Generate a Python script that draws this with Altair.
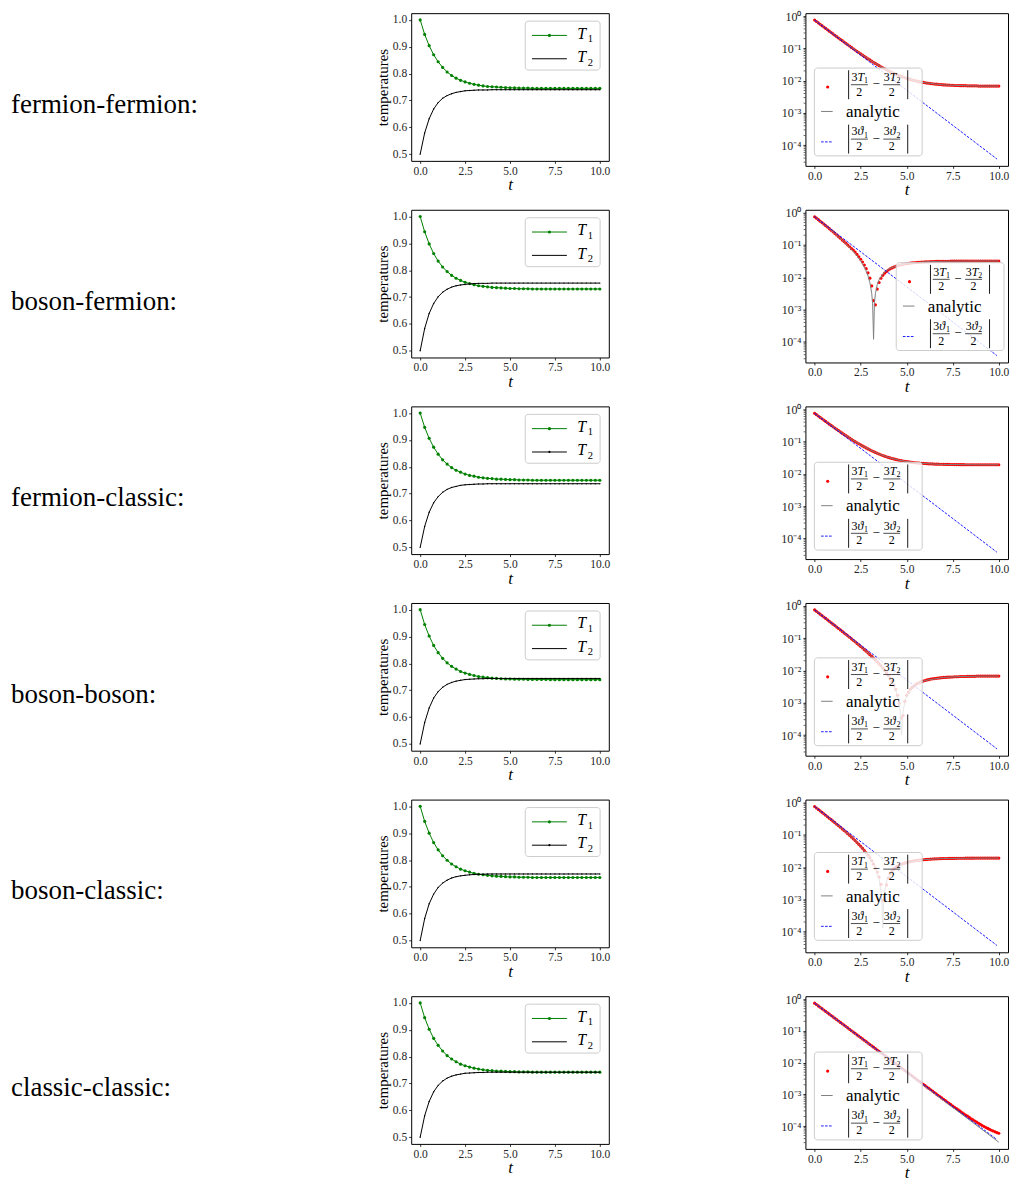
import altair as alt
import pandas as pd

FONT = "Liberation Serif"

ROW_LABELS = ["fermion-fermion:", "boson-fermion:", "fermion-classic:",
              "boson-boson:", "boson-classic:", "classic-classic:"]

# ---------------- left panels: temperatures ----------------
T_COARSE = [0.0, 0.25, 0.5, 0.75, 1.0, 1.25, 1.5, 1.75, 2.0, 2.25, 2.5, 2.75,
            3.0, 3.25, 3.5, 3.75, 4.0, 4.25, 4.5, 4.75, 5.0, 5.25, 5.5, 5.75,
            6.0, 6.25, 6.5, 6.75, 7.0, 7.25, 7.5, 7.75, 8.0, 8.25, 8.5, 8.75,
            9.0, 9.25, 9.5, 9.75, 10.0]

T1_ROWS = [
    [1.000, 0.946, 0.904, 0.870, 0.844, 0.823, 0.806, 0.793, 0.783, 0.775, 0.769, 0.764,
     0.760, 0.757, 0.754, 0.752, 0.751, 0.750, 0.749, 0.748, 0.747, 0.747, 0.746, 0.746,
     0.746, 0.745, 0.745, 0.745, 0.745, 0.745, 0.745, 0.745, 0.745, 0.745, 0.745, 0.745,
     0.745, 0.745, 0.745, 0.745, 0.745],
    [1.000, 0.943, 0.898, 0.862, 0.834, 0.812, 0.795, 0.781, 0.770, 0.762, 0.755, 0.750,
     0.746, 0.742, 0.740, 0.738, 0.736, 0.735, 0.734, 0.733, 0.732, 0.732, 0.731, 0.731,
     0.731, 0.730, 0.730, 0.730, 0.730, 0.730, 0.730, 0.730, 0.730, 0.730, 0.730, 0.730,
     0.730, 0.730, 0.730, 0.730, 0.730],
    [1.000, 0.947, 0.906, 0.873, 0.847, 0.826, 0.810, 0.797, 0.787, 0.780, 0.773, 0.768,
     0.765, 0.761, 0.759, 0.757, 0.756, 0.754, 0.754, 0.753, 0.752, 0.752, 0.751, 0.751,
     0.751, 0.750, 0.750, 0.750, 0.750, 0.750, 0.750, 0.750, 0.750, 0.750, 0.750, 0.750,
     0.750, 0.750, 0.750, 0.750, 0.750],
    [1.000, 0.945, 0.902, 0.867, 0.840, 0.819, 0.802, 0.789, 0.779, 0.770, 0.764, 0.759,
     0.755, 0.751, 0.749, 0.747, 0.745, 0.744, 0.743, 0.742, 0.742, 0.741, 0.741, 0.741,
     0.740, 0.740, 0.740, 0.740, 0.740, 0.7395, 0.7395, 0.7395, 0.7395, 0.7395, 0.7395, 0.7395,
     0.7395, 0.7395, 0.7395, 0.7395, 0.7395],
    [1.000, 0.944, 0.900, 0.865, 0.838, 0.816, 0.799, 0.785, 0.775, 0.766, 0.760, 0.755,
     0.750, 0.747, 0.745, 0.743, 0.741, 0.740, 0.739, 0.738, 0.737, 0.737, 0.736, 0.736,
     0.736, 0.735, 0.735, 0.735, 0.735, 0.735, 0.735, 0.735, 0.735, 0.735, 0.735, 0.735,
     0.735, 0.735, 0.735, 0.735, 0.735],
    [1.000, 0.945, 0.902, 0.868, 0.842, 0.821, 0.804, 0.791, 0.781, 0.772, 0.766, 0.761,
     0.757, 0.754, 0.751, 0.749, 0.748, 0.746, 0.746, 0.745, 0.744, 0.744, 0.743, 0.743,
     0.743, 0.742, 0.742, 0.742, 0.742, 0.742, 0.742, 0.742, 0.742, 0.742, 0.742, 0.742,
     0.742, 0.742, 0.742, 0.742, 0.742],
]

T2_ROWS = [
    [0.500, 0.579, 0.632, 0.668, 0.692, 0.708, 0.718, 0.725, 0.730, 0.733, 0.736, 0.737,
     0.738, 0.739, 0.739, 0.739, 0.740, 0.740, 0.740, 0.740, 0.740, 0.740, 0.740, 0.740,
     0.740, 0.740, 0.740, 0.740, 0.740, 0.740, 0.740, 0.740, 0.740, 0.740, 0.740, 0.740,
     0.740, 0.740, 0.740, 0.740, 0.740],
    [0.500, 0.583, 0.639, 0.676, 0.701, 0.718, 0.729, 0.737, 0.742, 0.745, 0.747, 0.749,
     0.750, 0.751, 0.751, 0.751, 0.752, 0.752, 0.752, 0.752, 0.752, 0.752, 0.752, 0.752,
     0.752, 0.752, 0.752, 0.752, 0.752, 0.752, 0.752, 0.752, 0.752, 0.752, 0.752, 0.752,
     0.752, 0.752, 0.752, 0.752, 0.752],
    [0.500, 0.578, 0.631, 0.666, 0.689, 0.705, 0.716, 0.723, 0.727, 0.731, 0.733, 0.734,
     0.735, 0.736, 0.736, 0.737, 0.737, 0.737, 0.737, 0.737, 0.737, 0.737, 0.737, 0.737,
     0.737, 0.737, 0.737, 0.737, 0.737, 0.737, 0.737, 0.737, 0.737, 0.737, 0.737, 0.737,
     0.737, 0.737, 0.737, 0.737, 0.737],
    [0.500, 0.580, 0.634, 0.671, 0.695, 0.711, 0.722, 0.729, 0.734, 0.737, 0.740, 0.741,
     0.742, 0.743, 0.743, 0.744, 0.744, 0.744, 0.744, 0.744, 0.744, 0.744, 0.744, 0.744,
     0.744, 0.744, 0.744, 0.744, 0.744, 0.744, 0.744, 0.744, 0.744, 0.744, 0.744, 0.744,
     0.744, 0.744, 0.744, 0.744, 0.744],
    [0.500, 0.582, 0.637, 0.673, 0.698, 0.714, 0.725, 0.733, 0.738, 0.741, 0.743, 0.745,
     0.746, 0.747, 0.747, 0.748, 0.748, 0.748, 0.748, 0.748, 0.748, 0.748, 0.748, 0.748,
     0.748, 0.748, 0.748, 0.748, 0.748, 0.748, 0.748, 0.748, 0.748, 0.748, 0.748, 0.748,
     0.748, 0.748, 0.748, 0.748, 0.748],
    [0.500, 0.580, 0.633, 0.669, 0.693, 0.709, 0.720, 0.727, 0.732, 0.735, 0.738, 0.739,
     0.740, 0.741, 0.741, 0.742, 0.742, 0.742, 0.742, 0.742, 0.742, 0.742, 0.742, 0.742,
     0.742, 0.742, 0.742, 0.742, 0.742, 0.742, 0.742, 0.742, 0.742, 0.742, 0.742, 0.742,
     0.742, 0.742, 0.742, 0.742, 0.742],
]

T2_LEGEND_MARKER = [False, False, True, False, True, False]

# ---------------- right panels: |3T1/2 - 3T2/2| on a log axis ----------------
T_FINE = [0.0, 0.1, 0.2, 0.3, 0.4, 0.5, 0.6, 0.7, 0.8, 0.9,
          1.0, 1.1, 1.2, 1.3, 1.4, 1.5, 1.6, 1.7, 1.8, 1.9,
          2.0, 2.1, 2.2, 2.3, 2.4, 2.5, 2.6, 2.7, 2.8, 2.9,
          3.0, 3.1, 3.2, 3.3, 3.4, 3.5, 3.6, 3.7, 3.8, 3.9,
          4.0, 4.1, 4.2, 4.3, 4.4, 4.5, 4.6, 4.7, 4.8, 4.9,
          5.0, 5.1, 5.2, 5.3, 5.4, 5.5, 5.6, 5.7, 5.8, 5.9,
          6.0, 6.1, 6.2, 6.3, 6.4, 6.5, 6.6, 6.7, 6.8, 6.9,
          7.0, 7.1, 7.2, 7.3, 7.4, 7.5, 7.6, 7.7, 7.8, 7.9,
          8.0, 8.1, 8.2, 8.3, 8.4, 8.5, 8.6, 8.7, 8.8, 8.9,
          9.0, 9.1, 9.2, 9.3, 9.4, 9.5, 9.6, 9.7, 9.8, 9.9,
          10.0]

DIFF_ROWS = [
    [0.750, 0.679, 0.616, 0.558, 0.505, 0.458, 0.415, 0.376, 0.340, 0.309,
     0.280, 0.254, 0.230, 0.210, 0.190, 0.173, 0.157, 0.143, 0.129, 0.118,
     0.107, 0.0974, 0.0892, 0.0811, 0.0742, 0.0678, 0.0620, 0.0567, 0.0519, 0.0476,
     0.0438, 0.0402, 0.0371, 0.0342, 0.0316, 0.0292, 0.0270, 0.0251, 0.0234, 0.0218,
     0.0203, 0.0191, 0.0179, 0.0168, 0.0159, 0.0150, 0.0143, 0.0135, 0.0129, 0.0123,
     0.0118, 0.0113, 0.0109, 0.0105, 0.0101, 0.0098, 0.0095, 0.0092, 0.0090, 0.0088,
     0.0086, 0.0084, 0.0083, 0.0081, 0.0080, 0.0079, 0.0078, 0.0077, 0.0076, 0.0075,
     0.0074, 0.0074, 0.0073, 0.0073, 0.0072, 0.0072, 0.0071, 0.0071, 0.0071, 0.0070,
     0.0070, 0.0070, 0.0070, 0.0069, 0.0069, 0.0069, 0.0069, 0.0069, 0.0069, 0.0068,
     0.0068, 0.0068, 0.0068, 0.0068, 0.0068, 0.0068, 0.0068, 0.0068, 0.0068, 0.0068,
     0.0068],
    [0.750, 0.676, 0.608, 0.547, 0.492, 0.443, 0.397, 0.357, 0.319, 0.286,
     0.256, 0.228, 0.203, 0.181, 0.161, 0.142, 0.127, 0.113, 0.099, 0.088,
     0.077, 0.0693, 0.0602, 0.0511, 0.0433, 0.0362, 0.0297, 0.0238, 0.0185, 0.0137,
     0.0094, 0.0054, 0.0019, 0.0014, 0.0043, 0.0069, 0.0093, 0.0115, 0.0134, 0.0152,
     0.0168, 0.0182, 0.0195, 0.0207, 0.0218, 0.0228, 0.0236, 0.0244, 0.0252, 0.0258,
     0.0264, 0.0269, 0.0274, 0.0279, 0.0282, 0.0286, 0.0289, 0.0292, 0.0295, 0.0297,
     0.0299, 0.0301, 0.0303, 0.0305, 0.0306, 0.0308, 0.0309, 0.0310, 0.0311, 0.0312,
     0.0312, 0.0313, 0.0314, 0.0314, 0.0315, 0.0315, 0.0316, 0.0316, 0.0317, 0.0317,
     0.0317, 0.0318, 0.0318, 0.0318, 0.0318, 0.0318, 0.0319, 0.0319, 0.0319, 0.0319,
     0.0319, 0.0319, 0.0319, 0.0319, 0.0319, 0.0319, 0.0319, 0.0319, 0.0319, 0.0319,
     0.0319],
    [0.750, 0.681, 0.618, 0.561, 0.509, 0.463, 0.420, 0.382, 0.347, 0.317,
     0.288, 0.262, 0.239, 0.219, 0.200, 0.182, 0.167, 0.153, 0.140, 0.129,
     0.118, 0.108, 0.100, 0.092, 0.0854, 0.0791, 0.0734, 0.0682, 0.0635, 0.0593,
     0.0555, 0.0520, 0.0489, 0.0461, 0.0435, 0.0411, 0.0390, 0.0371, 0.0354, 0.0338,
     0.0324, 0.0312, 0.0300, 0.0290, 0.0280, 0.0272, 0.0264, 0.0257, 0.0251, 0.0245,
     0.0240, 0.0235, 0.0231, 0.0227, 0.0224, 0.0220, 0.0218, 0.0215, 0.0213, 0.0211,
     0.0209, 0.0207, 0.0205, 0.0204, 0.0203, 0.0201, 0.0200, 0.0200, 0.0199, 0.0198,
     0.0197, 0.0197, 0.0196, 0.0196, 0.0195, 0.0195, 0.0194, 0.0194, 0.0194, 0.0193,
     0.0193, 0.0193, 0.0192, 0.0192, 0.0192, 0.0192, 0.0191, 0.0191, 0.0191, 0.0191,
     0.0191, 0.0191, 0.0191, 0.0191, 0.0191, 0.0191, 0.0191, 0.0191, 0.0191, 0.0191,
     0.0191],
    [0.750, 0.678, 0.613, 0.554, 0.500, 0.453, 0.409, 0.369, 0.333, 0.301,
     0.272, 0.245, 0.221, 0.200, 0.180, 0.162, 0.146, 0.132, 0.118, 0.107,
     0.0954, 0.0856, 0.0773, 0.0689, 0.0619, 0.0554, 0.0495, 0.0441, 0.0393, 0.0349,
     0.0309, 0.0273, 0.0241, 0.0212, 0.0185, 0.0161, 0.0139, 0.0119, 0.0102, 0.0085,
     0.0071, 0.0058, 0.0046, 0.0035, 0.0026, 0.0017, 0.00095, 0.00034, 0.0004, 0.0011,
     0.0017, 0.0021, 0.0026, 0.0030, 0.0033, 0.0037, 0.0040, 0.0042, 0.0045, 0.0047,
     0.0049, 0.0051, 0.0052, 0.0054, 0.0055, 0.0056, 0.0057, 0.0058, 0.0059, 0.0060,
     0.0061, 0.0061, 0.0062, 0.0062, 0.0063, 0.0063, 0.0064, 0.0064, 0.0064, 0.0065,
     0.0065, 0.0065, 0.0065, 0.0066, 0.0066, 0.0066, 0.0066, 0.0066, 0.0067, 0.0067,
     0.0067, 0.0067, 0.0067, 0.0067, 0.0067, 0.0067, 0.0067, 0.0067, 0.0067, 0.0067,
     0.0067],
    [0.750, 0.677, 0.611, 0.551, 0.496, 0.448, 0.403, 0.363, 0.326, 0.294,
     0.264, 0.237, 0.212, 0.191, 0.171, 0.152, 0.136, 0.122, 0.108, 0.0963,
     0.0848, 0.0748, 0.0663, 0.0579, 0.0507, 0.0441, 0.0381, 0.0326, 0.0277, 0.0232,
     0.0193, 0.0156, 0.0123, 0.0093, 0.0070, 0.0049, 0.0029, 0.00093, 0.00096, 0.0028,
     0.0046, 0.0062, 0.0075, 0.0086, 0.0096, 0.0105, 0.0113, 0.0121, 0.0127, 0.0133,
     0.0139, 0.0144, 0.0148, 0.0152, 0.0156, 0.0159, 0.0162, 0.0165, 0.0167, 0.0169,
     0.0171, 0.0173, 0.0175, 0.0176, 0.0178, 0.0179, 0.0180, 0.0181, 0.0182, 0.0183,
     0.0184, 0.0185, 0.0185, 0.0186, 0.0186, 0.0186, 0.0187, 0.0187, 0.0188, 0.0188,
     0.0188, 0.0188, 0.0189, 0.0189, 0.0189, 0.0189, 0.0189, 0.0190, 0.0190, 0.0190,
     0.0190, 0.0190, 0.0190, 0.0190, 0.0190, 0.0190, 0.0190, 0.0190, 0.0190, 0.0190,
     0.0190],
    [0.750, 0.679, 0.614, 0.556, 0.503, 0.455, 0.412, 0.373, 0.337, 0.305,
     0.276, 0.250, 0.226, 0.205, 0.185, 0.167, 0.152, 0.137, 0.124, 0.112,
     0.101, 0.0918, 0.0831, 0.0752, 0.0680, 0.0616, 0.0557, 0.0504, 0.0456, 0.0413,
     0.0373, 0.0338, 0.0306, 0.0277, 0.0250, 0.0227, 0.0205, 0.0185, 0.0168, 0.0152,
     0.0137, 0.0124, 0.0112, 0.0102, 0.00922, 0.00833, 0.00754, 0.00683, 0.00617, 0.00559,
     0.00506, 0.00457, 0.00414, 0.00375, 0.00339, 0.00307, 0.00278, 0.00251, 0.00227, 0.00206,
     0.00187, 0.00169, 0.00153, 0.00139, 0.00126, 0.00114, 0.00103, 0.000934, 0.000847, 0.000768,
     0.000696, 0.000632, 0.000573, 0.000520, 0.000472, 0.000429, 0.000389, 0.000355, 0.000323, 0.000294,
     0.000267, 0.000244, 0.000223, 0.000204, 0.000187, 0.000170, 0.000157, 0.000144, 0.000133, 0.000122,
     0.000113, 0.000104, 0.0000969, 0.0000901, 0.0000841, 0.0000788, 0.0000738, 0.0000695, 0.0000656, 0.0000621,
     0.000059],
]

ANA_T = [
    [0.0, 0.5, 1.0, 1.5, 2.0, 2.5, 3.0, 3.5, 4.0, 4.5, 5.0, 5.5, 6.0, 6.5, 7.0, 7.5, 8.0, 8.5, 9.0, 9.5, 10.0],
    [0.0, 0.5, 1.0, 1.5, 2.0, 2.25, 2.5, 2.75, 2.9, 3.0, 3.1, 3.15, 3.2, 3.25, 3.3, 3.4, 3.5, 3.75,
     4.0, 4.5, 5.0, 6.0, 7.0, 8.0, 9.0, 10.0],
    [0.0, 0.5, 1.0, 1.5, 2.0, 2.5, 3.0, 3.5, 4.0, 4.5, 5.0, 5.5, 6.0, 6.5, 7.0, 7.5, 8.0, 8.5, 9.0, 9.5, 10.0],
    [0.0, 0.5, 1.0, 1.5, 2.0, 2.5, 3.0, 3.5, 4.0, 4.25, 4.5, 4.6, 4.65, 4.7, 4.72, 4.75, 4.8, 4.9,
     5.0, 5.25, 5.5, 6.0, 7.0, 8.0, 9.0, 10.0],
    [0.0, 0.5, 1.0, 1.5, 2.0, 2.5, 3.0, 3.25, 3.5, 3.6, 3.65, 3.7, 3.75, 3.8, 3.9, 4.0, 4.25, 4.5,
     5.0, 6.0, 7.0, 8.0, 9.0, 10.0],
    [0.0, 10.0],
]
ANA_V = [
    [0.750, 0.458, 0.280, 0.173, 0.107, 0.0678, 0.0438, 0.0292, 0.0203, 0.0150, 0.0118, 0.0098,
     0.0086, 0.0079, 0.0074, 0.0072, 0.0070, 0.0069, 0.0068, 0.0068, 0.0068],
    [0.750, 0.443, 0.256, 0.142, 0.0736, 0.0504, 0.0322, 0.0180, 0.0110, 0.0069, 0.0032, 0.0015,
     0.00012, 0.0017, 0.0031, 0.0059, 0.0084, 0.0136, 0.0177, 0.0233, 0.0267, 0.0301, 0.0313,
     0.0317, 0.0319, 0.0320],
    [0.750, 0.463, 0.288, 0.182, 0.118, 0.0791, 0.0555, 0.0411, 0.0324, 0.0272, 0.0240, 0.0220,
     0.0209, 0.0201, 0.0197, 0.0195, 0.0193, 0.0192, 0.0191, 0.0191, 0.0191],
    [0.750, 0.453, 0.272, 0.162, 0.0954, 0.0554, 0.0309, 0.0161, 0.0071, 0.0040, 0.0017, 0.00095,
     0.00048, 0.00014, 0.0001, 0.0002, 0.00052, 0.0011, 0.0016, 0.0028, 0.0037, 0.0049, 0.0061,
     0.0065, 0.0067, 0.0067],
    [0.750, 0.448, 0.264, 0.152, 0.0848, 0.0441, 0.0193, 0.0108, 0.0042, 0.0019, 0.00094, 0.00013,
     0.00096, 0.0018, 0.0035, 0.0050, 0.0081, 0.0105, 0.0139, 0.0171, 0.0184, 0.0188, 0.0190, 0.0190],
    [0.750, 0.000031],
]

THETA_T = [0.0, 9.9]
THETA_V = [0.750, 0.0000375]

LOG_DOMAINS = [[2.3e-5, 1.23], [2.3e-5, 1.23], [2.3e-5, 1.23],
               [2.3e-5, 1.23], [2.3e-5, 1.23], [1.9e-5, 1.24]]

X_DOMAIN = [-0.5, 10.5]
X_TICKS = [0.0, 2.5, 5.0, 7.5, 10.0]
TEMP_DOMAIN = [0.475, 1.025]
TEMP_TICKS = [0.5, 0.6, 0.7, 0.8, 0.9, 1.0]
LOG_TICKS = [0.0001, 0.001, 0.01, 0.1, 1.0]
LOG_MINOR = [3e-5, 4e-5, 5e-5, 6e-5, 7e-5, 8e-5, 9e-5,
             2e-4, 3e-4, 4e-4, 5e-4, 6e-4, 7e-4, 8e-4, 9e-4,
             2e-3, 3e-3, 4e-3, 5e-3, 6e-3, 7e-3, 8e-3, 9e-3,
             2e-2, 3e-2, 4e-2, 5e-2, 6e-2, 7e-2, 8e-2, 9e-2,
             0.2, 0.3, 0.4, 0.5, 0.6, 0.7, 0.8, 0.9]
LOG_LABEL_EXPR = ("datum.value > 0.5 ? '10⁰' : datum.value > 0.05 ? '10⁻¹' : "
                  "datum.value > 0.005 ? '10⁻²' : datum.value > 0.0005 ? '10⁻³' : '10⁻⁴'")

LEFT_LABELS = ["T", "T"]
LEFT_SUBS = ["1", "2"]
RIGHT_SYMBOLS = ["T", "ϑ"]
ANALYTIC_LABEL = "analytic"
RIGHT_LEGEND_POS = [(9, 55), (91, 53), (9, 56), (9, 55), (9, 53), (9, 56)]

LW, LH = 198, 148
RW, RH = 203, 153


def x_enc(field="t"):
    return alt.X(f"{field}:Q",
                 scale=alt.Scale(domain=X_DOMAIN, nice=False, zero=False),
                 axis=alt.Axis(values=X_TICKS, format=".1f", title="t",
                               titleFontStyle="italic", titleFontSize=17, titlePadding=0))


def y_temp(field):
    return alt.Y(f"{field}:Q",
                 scale=alt.Scale(domain=TEMP_DOMAIN, nice=False, zero=False),
                 axis=alt.Axis(values=TEMP_TICKS, format=".1f", title="temperatures",
                               titleFontSize=15, titlePadding=2))


def y_log(i, field="v"):
    return alt.Y(f"{field}:Q",
                 scale=alt.Scale(type="log", domain=LOG_DOMAINS[i], nice=False),
                 axis=alt.Axis(values=LOG_TICKS, labelExpr=LOG_LABEL_EXPR, title=None,
                               labelFontSize=12))


def px(field):
    return alt.X(f"{field}:Q", scale=None, axis=None)


def py(field):
    return alt.Y(f"{field}:Q", scale=None, axis=None)


def text_layer(rows, italic=False, align="left"):
    df = pd.DataFrame(rows, columns=["x", "y", "s", "fs"])
    return alt.Chart(df).mark_text(
        font=FONT, align=align, baseline="alphabetic", color="black",
        fontStyle="italic" if italic else "normal"
    ).encode(x=px("x"), y=py("y"), text="s:N",
             size=alt.Size("fs:Q", scale=None, legend=None))


def rule_layer(rows, dash=None):
    df = pd.DataFrame(rows, columns=["x", "y", "xe", "ye", "c", "w"])
    if dash:
        m = alt.Chart(df).mark_rule(strokeDash=dash)
    else:
        m = alt.Chart(df).mark_rule()
    return m.encode(x=px("x"), x2=alt.X2("xe"), y=py("y"), y2=alt.Y2("ye"),
                    color=alt.Color("c:N", scale=None, legend=None),
                    strokeWidth=alt.StrokeWidth("w:Q", scale=None, legend=None))


def box_layer(x0, y0, w, h):
    df = pd.DataFrame({"x": [x0], "y": [y0], "xe": [x0 + w], "ye": [y0 + h]})
    return alt.Chart(df).mark_rect(
        cornerRadius=3, fill="white", fillOpacity=0.8, stroke="#cccccc", strokeWidth=1
    ).encode(x=px("x"), x2=alt.X2("xe"), y=py("y"), y2=alt.Y2("ye"))


def dot_layer(x0, y0, color, size):
    df = pd.DataFrame({"x": [x0], "y": [y0]})
    return alt.Chart(df).mark_circle(color=color, size=size, opacity=1).encode(
        x=px("x"), y=py("y"))


def left_legend(i):
    layers = [box_layer(114.3, 8, 75, 49)]
    layers.append(rule_layer([(121, 22.3, 156, 22.3, "green", 1.0),
                              (121, 45.7, 156, 45.7, "black", 1.0)]))
    layers.append(dot_layer(138.5, 22.3, "green", 10))
    if T2_LEGEND_MARKER[i]:
        layers.append(dot_layer(138.5, 45.7, "black", 5))
    layers.append(text_layer([(166.5, 25.5, LEFT_LABELS[0], 16),
                              (166.5, 49.0, LEFT_LABELS[1], 16)], italic=True))
    layers.append(text_layer([(177.0, 29.0, LEFT_SUBS[0], 10.5),
                              (177.0, 52.5, LEFT_SUBS[1], 10.5)]))
    return layers


def right_legend(i):
    bx, by = RIGHT_LEGEND_POS[i]
    layers = [box_layer(bx, by, 108, 88)]
    roman_left, italic_left, roman_center, rules = [], [], [], []
    for yc, sym in ((16.7, RIGHT_SYMBOLS[0]), (71.2, RIGHT_SYMBOLS[1])):
        rules.append((bx + 34.3, by + yc - 14.5, bx + 34.3, by + yc + 14.5, "black", 0.9))
        rules.append((bx + 93.5, by + yc - 14.5, bx + 93.5, by + yc + 14.5, "black", 0.9))
        for xs, xc, sub in ((37.2, 45.0, "1"), (69.6, 77.4, "2")):
            rules.append((bx + xs - 0.6, by + yc, bx + xs + 16.4, by + yc, "black", 0.7))
            roman_left.append((bx + xs, by + yc - 3.8, "3", 12))
            italic_left.append((bx + xs + 6.0, by + yc - 3.8, sym, 12))
            roman_left.append((bx + xs + 12.6, by + yc - 1.6, sub, 8))
            roman_center.append((bx + xc, by + yc + 11.0, "2", 12))
        roman_center.append((bx + 61.8, by + yc + 3.4, "−", 13))
    roman_left.append((bx + 31.7, by + 49.3, ANALYTIC_LABEL, 17))
    rules.append((bx + 6.7, by + 43.5, bx + 18.3, by + 43.5, "gray", 1.0))
    layers.append(rule_layer(rules))
    layers.append(rule_layer([(bx + 6.7, by + 74, bx + 18.6, by + 74, "blue", 0.9)],
                             dash=[2.6, 1.4]))
    layers.append(dot_layer(bx + 13.3, by + 19, "red", 10))
    layers.append(text_layer(roman_left))
    layers.append(text_layer(italic_left, italic=True))
    layers.append(text_layer(roman_center, align="center"))
    return layers


def left_panel(i):
    d1 = pd.DataFrame({"t": T_COARSE, "T1": T1_ROWS[i]})
    d2 = pd.DataFrame({"t": T_COARSE, "T2": T2_ROWS[i]})
    g_line = alt.Chart(d1).mark_line(color="green", strokeWidth=1).encode(
        x=x_enc(), y=y_temp("T1"))
    g_pts = alt.Chart(d1).mark_circle(color="green", size=10, opacity=1).encode(
        x=x_enc(), y=y_temp("T1"))
    k_line = alt.Chart(d2).mark_line(color="black", strokeWidth=1).encode(
        x=x_enc(), y=y_temp("T2"))
    k_pts = alt.Chart(d2).mark_circle(color="black", size=2, opacity=1).encode(
        x=x_enc(), y=y_temp("T2"))
    return alt.layer(g_line, g_pts, k_line, k_pts, *left_legend(i)).properties(
        width=LW, height=LH)


def right_panel(i):
    dr = pd.DataFrame({"t": T_FINE, "v": DIFF_ROWS[i]})
    da = pd.DataFrame({"t": ANA_T[i], "v": ANA_V[i]})
    db = pd.DataFrame({"t": THETA_T, "v": THETA_V})
    lo = LOG_DOMAINS[i][0]
    dm = pd.DataFrame({"v": [m for m in LOG_MINOR if m > lo]})
    red = alt.Chart(dr).mark_circle(color="red", size=10, opacity=1).encode(
        x=x_enc(), y=y_log(i))
    gray = alt.Chart(da).mark_line(color="gray", strokeWidth=1).encode(
        x=x_enc(), y=y_log(i))
    blue = alt.Chart(db).mark_line(color="blue", strokeWidth=0.9,
                                   strokeDash=[2.6, 1.4]).encode(x=x_enc(), y=y_log(i))
    minor = alt.Chart(dm).mark_rule(color="black", strokeWidth=0.6).encode(
        y=y_log(i), x=alt.value(0), x2=alt.value(-1.8))
    return alt.layer(red, gray, blue, minor, *right_legend(i)).properties(
        width=RW, height=RH)


def label_panel(i):
    df = pd.DataFrame({"s": [ROW_LABELS[i]]})
    return alt.Chart(df).mark_text(
        font=FONT, fontSize=27, align="left", baseline="alphabetic", color="black"
    ).encode(x=alt.value(2), y=alt.value(100), text="s:N").properties(
        width=206, height=RH, view=alt.ViewBackground(stroke="transparent"))


cells = []
for i in range(6):
    cells.extend([label_panel(i), left_panel(i), right_panel(i)])

chart = alt.concat(*cells, columns=3, spacing={"row": 44, "column": 197},
                   bounds="flush", align="each").properties(
    padding={"left": 0, "top": 0, "right": 0, "bottom": 0}
).configure_view(stroke="black", strokeWidth=1).configure_axis(
    labelFont=FONT, labelFontSize=11.5, labelColor="#262626",
    titleFont=FONT, titleFontWeight="normal", titleColor="black",
    tickColor="black", tickSize=2.5, tickWidth=0.8, domain=False, grid=False,
    labelPadding=2, labelFlush=False, labelOverlap=False
)

chart.save("out.html", embed_options={"renderer": "svg", "actions": False})
